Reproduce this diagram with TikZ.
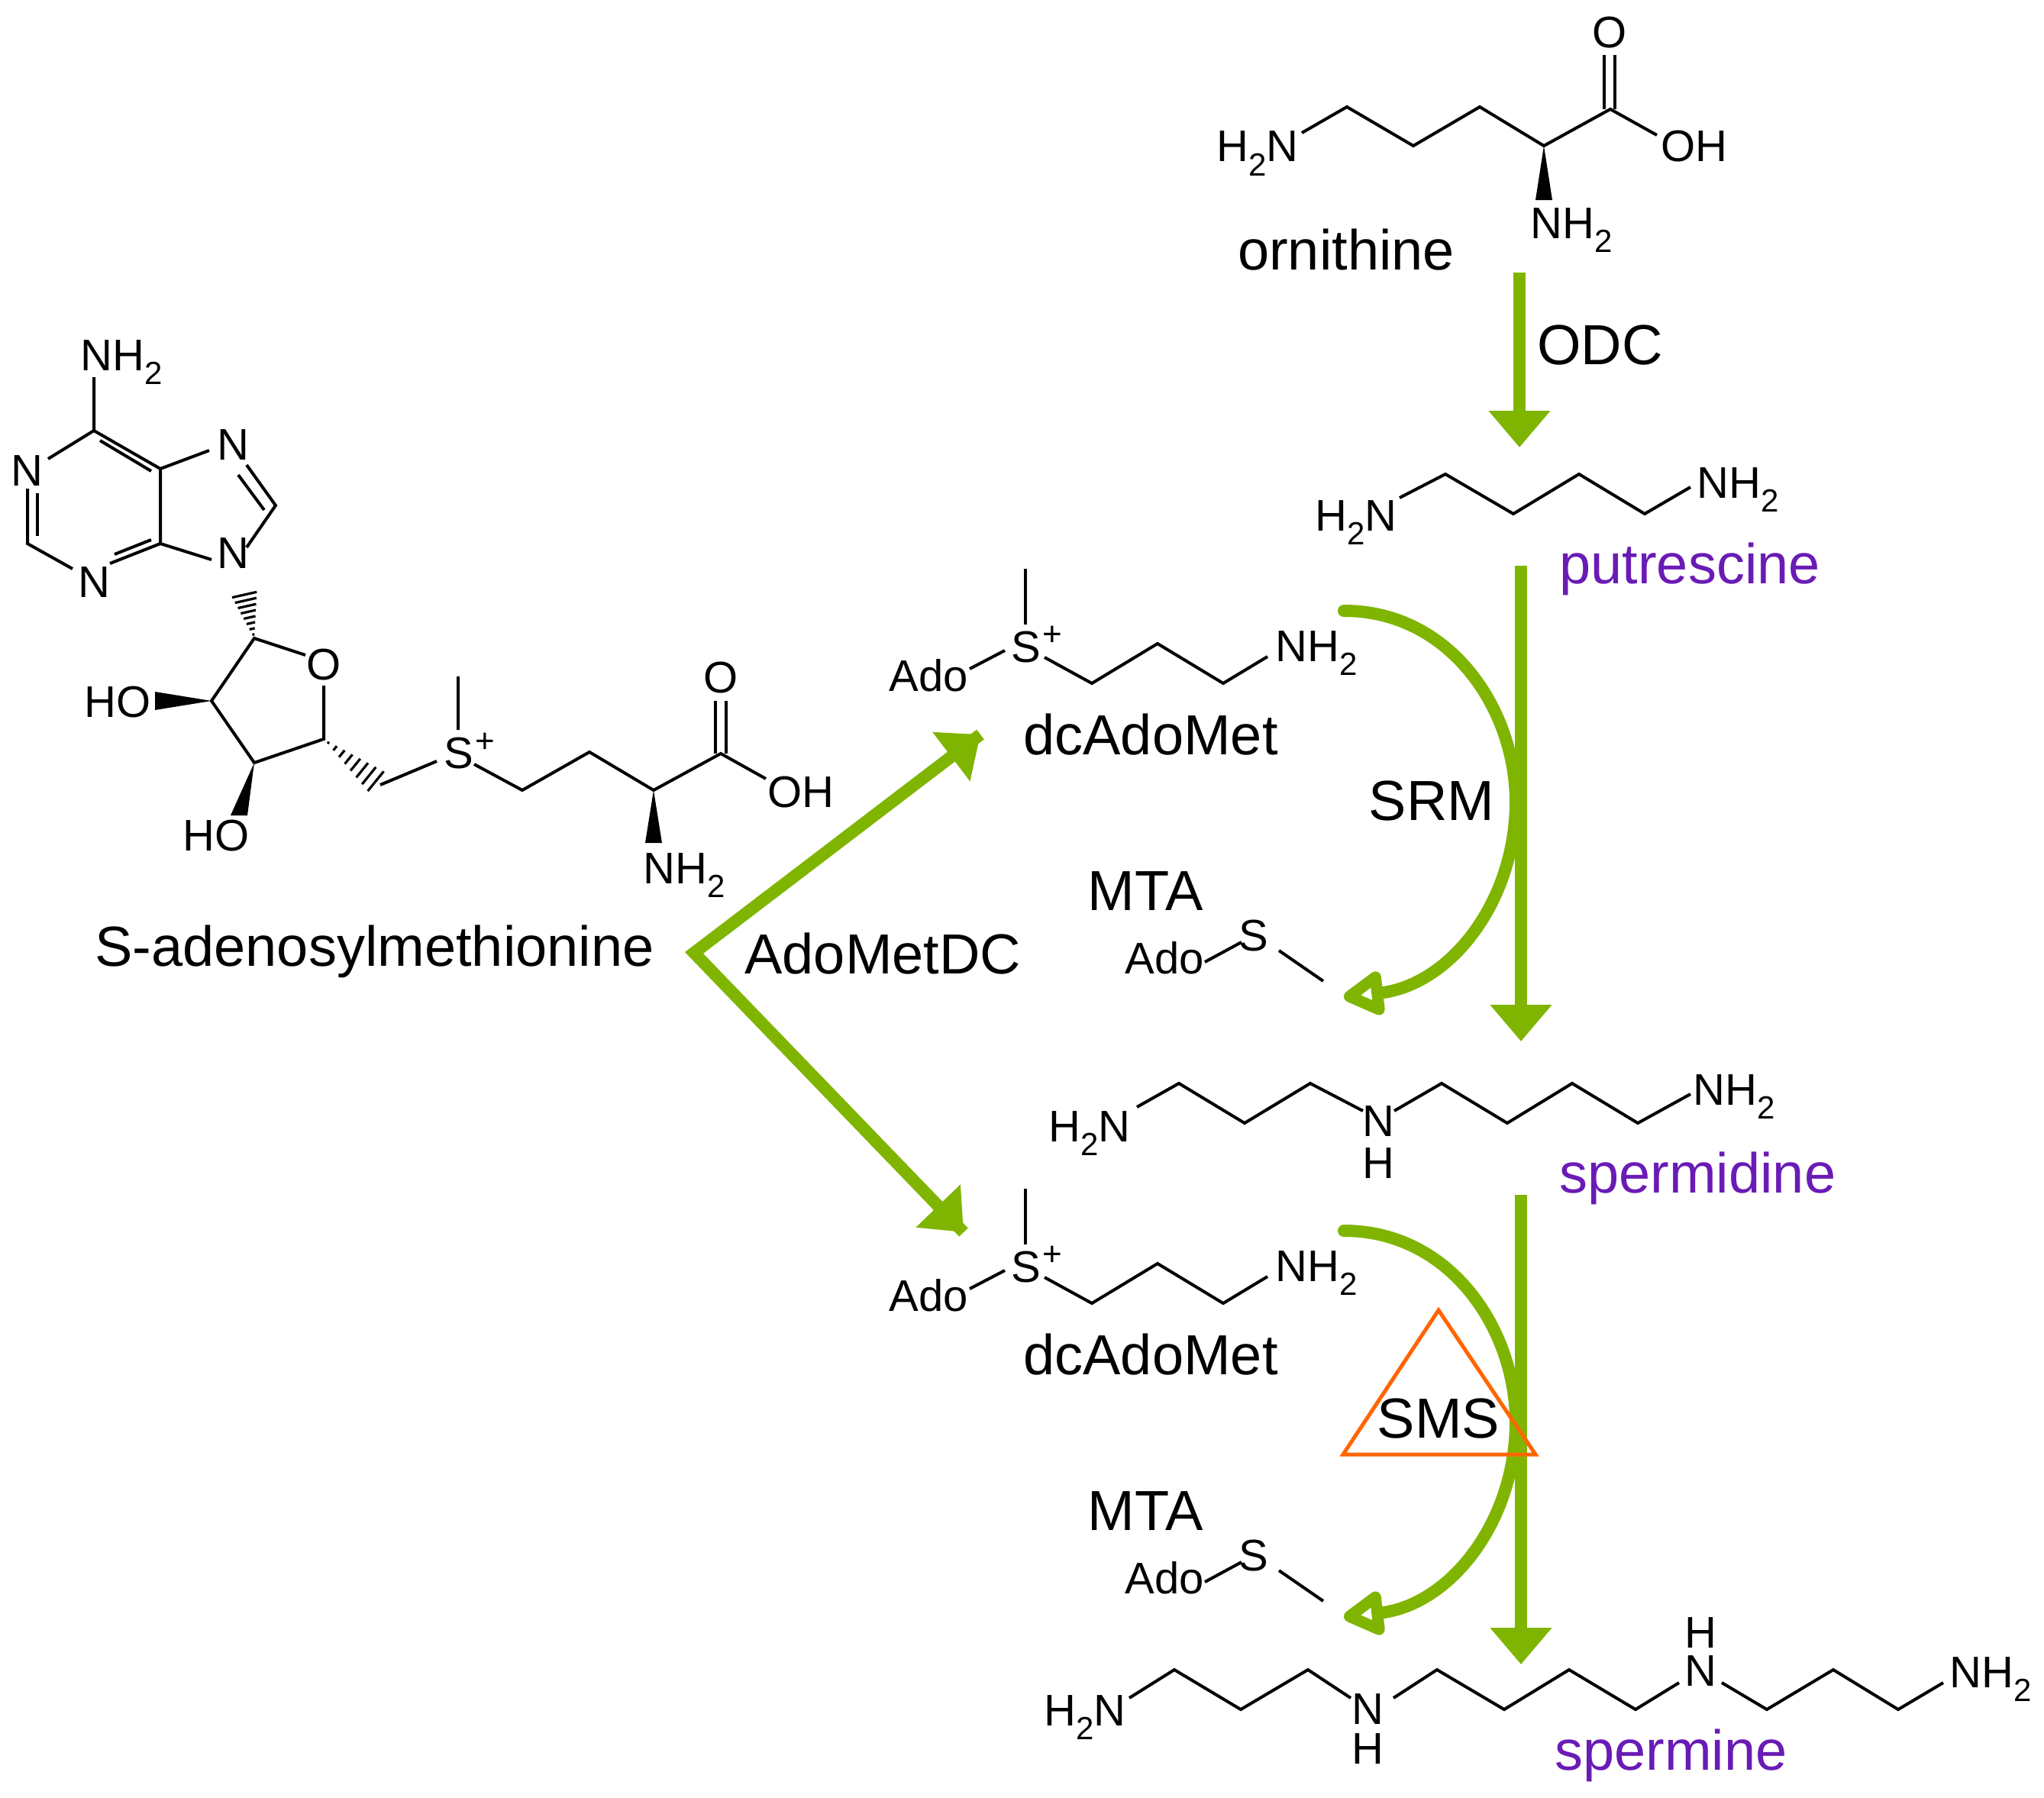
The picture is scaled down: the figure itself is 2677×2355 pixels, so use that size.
\documentclass[tikz,border=0pt]{standalone}
\usepackage{fontspec}
\setmainfont{Liberation Sans}
\usetikzlibrary{arrows.meta,calc}
\definecolor{pgreen}{RGB}{127,181,0}
\definecolor{ppurple}{RGB}{106,27,181}
\definecolor{porange}{RGB}{255,102,0}
\newcommand\stwo{\raisebox{-0.32em}{\fontsize{21}{21}\selectfont 2}}
\newcommand\splus{\fontsize{22}{22}\selectfont +}
\newcommand\hashw[3]{\foreach \t in {0.08,0.2,...,1.0}{\draw[line width=1.6pt] ($($(#1)!\t!(#2)$)!#3*\t!90:(#2)$) -- ($($(#1)!\t!(#2)$)!#3*\t!-90:(#2)$);}}
\begin{document}
\begin{tikzpicture}[x=0.5pt,y=-0.5pt,
  bond/.style={line width=2pt,line cap=butt,line join=miter},
  lab/.style={font=\fontsize{37}{40}\selectfont,inner sep=0pt},
  atom/.style={font=\fontsize{29}{30}\selectfont,inner sep=0pt},
  grn/.style={draw=pgreen,line width=8pt},
  garrow/.style={grn,-{Triangle[length=24pt,width=39pt]}},
  purp/.style={lab,text=ppurple}]
\useasboundingbox (0,0) rectangle (2677,2355);
% ---------- ornithine
\node[atom,anchor=base west] (oN) at (1593,212) {H\stwo N};
\node[atom,anchor=base west] (oOH) at (2175,212) {OH};
\node[atom] (oO) at (2108,43) {O};
\node[atom,anchor=base west] (oNH) at (2004,312) {NH\stwo};
\node[lab,anchor=base] (orn) at (1763,353) {ornithine};
\draw[bond] (1705,174)--(1764,140)--(1851,191)--(1938,140)--(2022,191)--(2109,143)--(2170,177);
\draw[bond] (2101,72)--(2101,143) (2115,72)--(2115,143);
\fill (2022,191)--(2011,262)--(2033,262)--cycle;
% ---------- ODC arrow
\coordinate (a1s) at (1990,357); \coordinate (a1e) at (1990,586);
\draw[garrow] (a1s)--(a1e);
\node[lab,anchor=base west] (odc) at (2013,477) {ODC};
% ---------- putrescine
\node[atom,anchor=base west] (pN1) at (1722,695) {H\stwo N};
\node[atom,anchor=base west] (pN2) at (2222,652) {NH\stwo};
\draw[bond] (1833,652)--(1893,621)--(1982,673)--(2068,621)--(2154,673)--(2214,638);
\node[purp,anchor=base west] (put) at (2042,764) {putrescine};
% ---------- vertical arrows
\coordinate (a2s) at (1992,741); \coordinate (a2e) at (1992,1364);
\draw[garrow] (a2s)--(a2e);
\coordinate (a3s) at (1992,1565); \coordinate (a3e) at (1992,2180);
\draw[garrow] (a3s)--(a3e);
% ---------- spermidine
\node[atom,anchor=base west] (sdN1) at (1373,1495) {H\stwo N};
\node[atom] (sdN) at (1805,1469) {N};
\node[atom] (sdH) at (1805,1524) {H};
\node[atom,anchor=base west] (sdN2) at (2217,1447) {NH\stwo};
\draw[bond] (1489,1450)--(1544,1419)--(1630,1471)--(1716,1419)--(1785,1455);
\draw[bond] (1826,1455)--(1888,1419)--(1974,1471)--(2059,1419)--(2145,1471)--(2214,1433);
\node[purp,anchor=base west] (spd) at (2042,1562) {spermidine};
% ---------- spermine
\node[atom,anchor=base west] (smN1) at (1367,2260) {H\stwo N};
\node[atom] (smNa) at (1791,2239) {N};
\node[atom] (smHa) at (1791,2291) {H};
\node[atom] (smNb) at (2227,2189) {N};
\node[atom] (smHb) at (2227,2139) {H};
\node[atom,anchor=base west] (smN2) at (2553,2210) {NH\stwo};
\draw[bond] (1479,2224)--(1538,2187)--(1625,2239)--(1713,2187)--(1769,2224);
\draw[bond] (1825,2224)--(1882,2187)--(1970,2239)--(2055,2187)--(2142,2239)--(2199,2204);
\draw[bond] (2255,2204)--(2314,2239)--(2401,2187)--(2486,2239)--(2545,2204);
\node[purp,anchor=base west] (spm) at (2036,2318) {spermine};
% ---------- S-adenosylmethionine
\node[atom,anchor=base west] (aNH) at (105,485) {NH\stwo};
\node[atom] (aN1) at (35,617) {N};
\node[atom] (aN3) at (123,763) {N};
\node[atom] (aN7) at (305,583) {N};
\node[atom] (aN9) at (305,725) {N};
\node[atom] (aO) at (424,871) {O};
\node[atom] (aHO1) at (154,920) {HO};
\node[atom] (aHO2) at (283,1095) {HO};
\node[atom] (aS) at (601,987) {S};
\node[atom] (aSp) at (635,973) {\splus};
\node[atom] (aO2) at (944,888) {O};
\node[atom] (aOH) at (1049,1038) {OH};
\node[atom,anchor=base west] (aNH2) at (842,1157) {NH\stwo};
\draw[bond] (123,494)--(123,564)--(63,601);
\draw[bond] (36,640)--(36,712)--(95,745);
\draw[bond] (49,646)--(49,702);
\draw[bond] (144,738)--(210,712)--(210,614)--(123,564);
\draw[bond] (150,726)--(198,707);
\draw[bond] (131,577)--(198,617);
\draw[bond] (210,614)--(274,590);
\draw[bond] (323,609)--(361,662)--(323,717);
\draw[bond] (312,622)--(346,668);
\draw[bond] (210,712)--(277,733);
\hashw{333,836}{319,774}{9pt}
\draw[bond] (400,858)--(333,836)--(277,918)--(333,999)--(424,968)--(424,898);
\fill (277,918)--(203,906)--(203,930)--cycle;
\fill (333,999)--(302,1068)--(324,1068)--cycle;
\hashw{424,968}{498,1028}{9pt}
\draw[bond] (498,1028)--(572,997);
\draw[bond] (600,886)--(600,956);
\draw[bond] (621,1001)--(684,1035)--(772,985)--(856,1035)--(944,987)--(1003,1020);
\draw[bond] (937,918)--(937,987) (951,918)--(951,987);
\fill (856,1035)--(845,1104)--(867,1104)--cycle;
\node[lab,anchor=base west] (sam) at (124,1265) {S-adenosylmethionine};
% ---------- AdoMetDC arrows
\coordinate (v) at (909,1248);
\coordinate (d1) at (1284,962);
\coordinate (d2) at (1262,1614);
\draw[grn,line join=miter] (d1) -- (v) -- (d2);
\draw[garrow] ($(v)!0.9!(d1)$) -- (d1);
\draw[garrow] ($(v)!0.9!(d2)$) -- (d2);
\node[lab,anchor=base west] (amdc) at (975,1275) {AdoMetDC};
% ---------- dcAdoMet / MTA blocks
\foreach \dy/\nm in {0/1,812/2}{
\begin{scope}[yshift=-\dy*0.5pt]
\node[atom] (dS\nm) at (1344,848) {S};
\node[atom] (dSp\nm) at (1378,833) {\splus};
\node[atom] (dAdo\nm) at (1216,885) {Ado};
\node[atom,anchor=base west] (dNH\nm) at (1670,866) {NH\stwo};
\draw[bond] (1343,745)--(1343,818);
\draw[bond] (1270,876)--(1316,852);
\draw[bond] (1368,861)--(1430,895)--(1516,843)--(1602,895)--(1660,860);
\node[lab] (dc\nm) at (1507,962) {dcAdoMet};
\node[lab] (mta\nm) at (1500,1167) {MTA};
\node[atom] (mAdo\nm) at (1525,1255) {Ado};
\node[atom] (mS\nm) at (1642,1226) {S};
\draw[bond] (1578,1260)--(1626,1234);
\draw[bond] (1675,1245)--(1733,1285);
\coordinate (cs\nm) at (1760,800);
\coordinate (ce\nm) at (1760,1306);
\draw[grn,line cap=round,-{Triangle[open,length=30pt,width=32pt,round]}] (cs\nm) .. controls (1900,800) and (1985,930) .. (1985,1050) .. controls (1985,1180) and (1900,1290) .. (ce\nm);
\end{scope}}
\node[lab] (srm) at (1875,1049) {SRM};
% ---------- SMS
\coordinate (t1) at (1884,1716); \coordinate (t2) at (1759,1905); \coordinate (t3) at (2011,1905);
\draw[porange,line width=2.5pt,line join=miter] (t1)--(t2)--(t3)--cycle;
\node[lab] (sms) at (1884,1858) {SMS};
\end{tikzpicture}
\end{document}
